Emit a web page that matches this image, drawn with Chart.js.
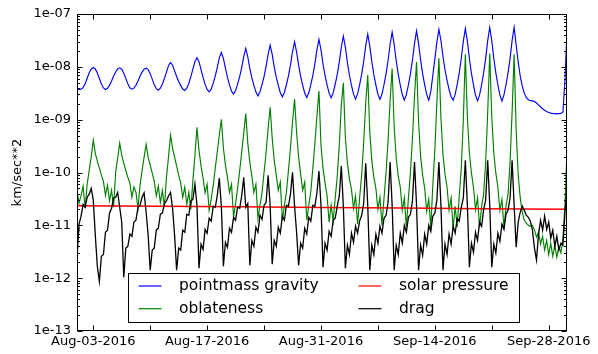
<!DOCTYPE html>
<html>
<head>
<meta charset="utf-8">
<title>Perturbing accelerations</title>
<script src="https://cdn.jsdelivr.net/npm/chart.js@4.4.0/dist/chart.umd.min.js"></script>
<style>
  html, body { margin: 0; padding: 0; background: #fff; }
</style>
</head>
<body>
<canvas id="accelChart" width="598" height="354"></canvas>
<script>
// samples every 6 h starting Aug-01-2016 00:00 (day 0)
const stepDays = 0.25;

// km/sec**2
const pointmassGravity = [
  3.85e-9, 3.75e-9, 3.78e-9, 4.04e-9, 4.78e-9, 6.06e-9, 7.7e-9, 9.13e-9, 9.74e-9, 9.13e-9,
  7.67e-9, 6.03e-9, 4.74e-9, 3.98e-9, 3.73e-9, 3.91e-9, 4.46e-9, 5.38e-9, 6.64e-9, 8.0e-9,
  9.13e-9, 9.57e-9, 9.01e-9, 7.6e-9, 6.0e-9, 4.76e-9, 4.02e-9, 3.78e-9, 3.95e-9, 4.48e-9,
  5.41e-9, 6.61e-9, 7.94e-9, 9.01e-9, 9.45e-9, 8.85e-9, 7.43e-9, 5.85e-9, 4.6e-9, 3.86e-9,
  3.62e-9, 3.93e-9, 4.72e-9, 6.0e-9, 7.94e-9, 1.05e-8, 1.21e-8, 1.07e-8, 8.4e-9, 6.58e-9,
  5.29e-9, 4.41e-9, 3.8e-9, 3.57e-9, 3.95e-9, 4.89e-9, 6.52e-9, 9.05e-9, 1.26e-8, 1.49e-8,
  1.25e-8, 8.85e-9, 6.3e-9, 4.66e-9, 3.73e-9, 3.36e-9, 3.78e-9, 4.91e-9, 6.67e-9, 9.74e-9,
  1.48e-8, 1.87e-8, 1.45e-8, 9.41e-9, 6.3e-9, 4.54e-9, 3.45e-9, 3.04e-9, 3.57e-9, 4.7e-9,
  6.5e-9, 9.66e-9, 1.56e-8, 2.23e-8, 1.54e-8, 9.37e-9, 6.19e-9, 4.44e-9, 3.33e-9, 2.82e-9,
  3.38e-9, 4.6e-9, 6.55e-9, 1.02e-8, 1.73e-8, 2.58e-8, 1.72e-8, 1.0e-8, 6.36e-9, 4.44e-9,
  3.23e-9, 2.7e-9, 3.27e-9, 4.58e-9, 6.72e-9, 1.09e-8, 1.93e-8, 2.98e-8, 1.92e-8, 1.08e-8,
  6.61e-9, 4.48e-9, 3.19e-9, 2.63e-9, 3.22e-9, 4.6e-9, 6.87e-9, 1.14e-8, 2.1e-8, 3.3e-8,
  2.09e-8, 1.13e-8, 6.81e-9, 4.52e-9, 3.18e-9, 2.59e-9, 3.21e-9, 4.68e-9, 7.18e-9, 1.23e-8,
  2.35e-8, 3.81e-8, 2.33e-8, 1.2e-8, 6.93e-9, 4.48e-9, 3.04e-9, 2.45e-9, 3.07e-9, 4.56e-9,
  7.18e-9, 1.27e-8, 2.5e-8, 4.16e-8, 2.49e-8, 1.26e-8, 7.12e-9, 4.52e-9, 3.03e-9, 2.41e-9,
  3.06e-9, 4.6e-9, 7.37e-9, 1.32e-8, 2.68e-8, 4.54e-8, 2.67e-8, 1.3e-8, 7.21e-9, 4.5e-9,
  2.96e-9, 2.34e-9, 2.98e-9, 4.54e-9, 7.37e-9, 1.35e-8, 2.78e-8, 4.81e-8, 2.78e-8, 1.35e-8,
  7.37e-9, 4.54e-9, 2.98e-9, 2.34e-9, 3.39e-9, 6.87e-9, 1.4e-8, 2.94e-8, 5.11e-8, 3.12e-8,
  1.58e-8, 8.81e-9, 5.55e-9, 3.72e-9, 2.72e-9, 2.34e-9, 3.0e-9, 4.66e-9, 7.67e-9, 1.44e-8,
  3.04e-8, 5.34e-8, 3.03e-8, 1.42e-8, 7.53e-9, 4.54e-9, 2.92e-9, 2.27e-9, 2.94e-9, 4.58e-9,
  7.67e-9, 1.45e-8, 3.14e-8, 5.57e-8, 3.14e-8, 1.45e-8, 7.67e-9, 4.58e-9, 2.94e-9, 2.27e-9,
  2.94e-9, 4.58e-9, 7.67e-9, 1.45e-8, 3.14e-8, 5.57e-8, 2.58e-8, 1.23e-8, 6.67e-9, 4.31e-9,
  3.18e-9, 2.61e-9, 2.39e-9, 2.29e-9, 2.27e-9, 2.21e-9, 2.07e-9, 1.9e-9, 1.74e-9, 1.61e-9,
  1.51e-9, 1.43e-9, 1.37e-9, 1.33e-9, 1.31e-9, 1.3e-9, 1.29e-9, 1.3e-9, 1.31e-9, 1.4e-9,
  5.6e-9, 4.96e-8
];

const oblateness = [
  4.6e-11, 2.6e-11, 3.7e-11, 5.5e-11, 2.1e-11, 6.0e-11, 1.1e-10, 2.0e-10, 4.1e-10, 2.3e-10,
  1.64e-10, 1.21e-10, 8.9e-11, 6.8e-11, 3.7e-11, 5.75e-11, 2.9e-11, 4.6e-11, 2.2e-11, 1.01e-10,
  1.87e-10, 3.6e-10, 2.1e-10, 1.5e-10, 1.1e-10, 8.1e-11, 6.3e-11, 3.4e-11, 5.3e-11, 4.2e-11,
  2.1e-11, 5.75e-11, 1.1e-10, 1.95e-10, 3.4e-10, 1.95e-10, 1.38e-10, 9.7e-11, 6.8e-11, 3.6e-11,
  5.5e-11, 2.7e-11, 4.6e-11, 2.2e-11, 8.1e-11, 1.95e-10, 5.1e-10, 2.9e-10, 1.95e-10, 1.32e-10,
  8.9e-11, 6.3e-11, 3.4e-11, 5.3e-11, 2.5e-11, 4.2e-11, 2.0e-11, 7.1e-11, 2.1e-10, 7.2e-10,
  2.65e-10, 1.32e-10, 7.8e-11, 4.1e-11, 6.0e-11, 1.93e-11, 3.1e-11, 5.75e-11, 1.21e-10, 2.5e-10,
  5.1e-10, 1.02e-9, 2.9e-10, 1.38e-10, 8.1e-11, 4.2e-11, 6.0e-11, 1.42e-11, 2.6e-11, 5.0e-11,
  1.06e-10, 2.4e-10, 5.5e-10, 1.3e-9, 3.6e-10, 1.57e-10, 8.5e-11, 4.2e-11, 6.0e-11, 1.36e-11,
  2.4e-11, 4.1e-11, 1.01e-10, 2.4e-10, 6.9e-10, 1.72e-9, 4.5e-10, 1.7e-10, 8.9e-11, 4.6e-11,
  6.6e-11, 1.25e-11, 2.4e-11, 4.2e-11, 1.1e-10, 2.9e-10, 9.0e-10, 2.45e-9, 5.8e-10, 1.95e-10,
  9.2e-11, 4.6e-11, 6.6e-11, 1.25e-11, 2.4e-11, 4.4e-11, 1.21e-10, 3.6e-10, 1.16e-9, 3.5e-9,
  3.3e-10, 1.21e-10, 6.3e-11, 3.6e-11, 1.15e-11, 2.4e-11, 1.2e-11, 3.3e-11, 8.5e-11, 3.3e-10,
  1.88e-9, 5.0e-9, 4.5e-10, 1.5e-10, 7.5e-11, 4.8e-11, 2.1e-11, 3.6e-11, 1.05e-11, 3.3e-11,
  8.9e-11, 3.75e-10, 2.05e-9, 7.0e-9, 5.8e-10, 1.7e-10, 8.1e-11, 5.0e-11, 2.0e-11, 3.4e-11,
  1.0e-11, 3.3e-11, 9.7e-11, 4.1e-10, 2.3e-9, 9.3e-9, 7.2e-10, 1.87e-10, 8.5e-11, 5.3e-11,
  1.93e-11, 3.3e-11, 9.2e-12, 3.3e-11, 1.01e-10, 4.5e-10, 2.8e-9, 1.23e-8, 9.0e-10, 2.0e-10,
  8.9e-11, 5.0e-11, 1.85e-11, 3.1e-11, 8.8e-12, 5.75e-11, 2.65e-10, 2.15e-9, 1.46e-8, 1.07e-9,
  2.2e-10, 9.2e-11, 5.3e-11, 1.93e-11, 3.3e-11, 8.8e-12, 2.3e-11, 9.2e-12, 3.6e-11, 1.21e-10,
  9.8e-10, 1.72e-8, 1.11e-9, 2.3e-10, 9.7e-11, 5.3e-11, 2.0e-11, 3.3e-11, 9.2e-12, 2.3e-11,
  3.9e-11, 1.57e-10, 1.39e-9, 1.79e-8, 1.11e-9, 2.3e-10, 9.7e-11, 5.3e-11, 1.93e-11, 3.1e-11,
  8.8e-12, 2.3e-11, 3.9e-11, 1.57e-10, 1.39e-9, 1.72e-8, 6.3e-10, 8.9e-11, 3.3e-11, 1.77e-11,
  1.25e-11, 1.1e-11, 1.0e-11, 9.6e-12, 1.0e-11, 8.1e-12, 6.0e-12, 7.4e-12, 4.4e-12, 6.2e-12,
  3.4e-12, 5.2e-12, 2.8e-12, 4.6e-12, 2.6e-12, 4.2e-12, 2.5e-12, 4.0e-12, 3.0e-12, 5.7e-12,
  2.4e-11, 2.65e-10
];

const drag = [
  2.4e-12, 1.05e-11, 1.49e-11, 2.5e-11, 2.2e-11, 3.4e-11, 3.9e-11, 5.0e-11, 3.0e-11, 6.5e-12,
  1.68e-12, 8.7e-13, 2.6e-12, 2.8e-12, 7.4e-12, 8.1e-12, 1.7e-11, 2.1e-11, 3.3e-11, 3.4e-11,
  4.2e-11, 2.2e-11, 1.15e-11, 1.04e-12, 3.7e-12, 4.0e-12, 6.8e-12, 6.2e-12, 1.15e-11, 1.25e-11,
  2.2e-11, 2.4e-11, 3.4e-11, 4.1e-11, 1.77e-11, 6.5e-12, 1.41e-12, 3.4e-12, 3.7e-12, 8.1e-12,
  8.8e-12, 1.62e-11, 1.7e-11, 2.6e-11, 2.9e-11, 3.6e-11, 4.2e-11, 2.1e-11, 6.5e-12, 1.41e-12,
  3.7e-12, 3.4e-12, 8.1e-12, 7.4e-12, 1.62e-11, 1.55e-11, 2.9e-11, 3.1e-11, 6.0e-11, 2.4e-11,
  1.54e-12, 4.4e-12, 3.5e-12, 8.4e-12, 7.1e-12, 1.36e-11, 1.2e-11, 2.3e-11, 2.2e-11, 3.7e-11,
  7.8e-11, 2.3e-11, 1.68e-12, 4.8e-12, 3.85e-12, 8.8e-12, 7.4e-12, 1.42e-11, 1.25e-11, 2.2e-11,
  2.1e-11, 3.6e-11, 8.1e-11, 2.2e-11, 2.6e-11, 1.75e-12, 5.2e-12, 4.0e-12, 9.2e-12, 7.4e-12,
  1.55e-11, 1.3e-11, 2.4e-11, 2.7e-11, 8.9e-11, 2.4e-11, 1.83e-12, 5.2e-12, 4.0e-12, 9.2e-12,
  7.1e-12, 1.49e-11, 1.25e-11, 2.4e-11, 2.3e-11, 3.9e-11, 1.01e-10, 2.3e-11, 7.4e-12, 1.75e-12,
  4.6e-12, 3.7e-12, 8.8e-12, 6.8e-12, 1.42e-11, 1.2e-11, 2.4e-11, 2.3e-11, 4.1e-11, 1.06e-10,
  2.4e-11, 1.61e-12, 4.6e-12, 3.4e-12, 7.7e-12, 6.2e-12, 1.25e-11, 1.36e-11, 2.3e-11, 3.6e-11,
  1.32e-10, 2.3e-11, 1.54e-12, 4.2e-12, 2.8e-12, 7.1e-12, 4.8e-12, 9.6e-12, 7.1e-12, 1.2e-11,
  1.55e-11, 2.6e-11, 1.5e-10, 2.4e-11, 1.41e-12, 4.2e-12, 2.8e-12, 6.8e-12, 4.6e-12, 9.6e-12,
  7.1e-12, 1.36e-11, 1.55e-11, 2.7e-11, 1.57e-10, 2.4e-11, 1.41e-12, 4.2e-12, 2.8e-12, 7.1e-12,
  4.6e-12, 1.0e-11, 7.4e-12, 1.42e-11, 1.62e-11, 2.9e-11, 1.57e-10, 2.4e-11, 1.41e-12, 4.2e-12,
  2.7e-12, 6.8e-12, 4.4e-12, 1.0e-11, 7.7e-12, 1.49e-11, 1.7e-11, 3.0e-11, 1.57e-10, 2.4e-11,
  1.41e-12, 4.4e-12, 2.8e-12, 6.8e-12, 4.4e-12, 9.6e-12, 7.1e-12, 1.36e-11, 1.2e-11, 2.2e-11,
  3.3e-11, 1.7e-10, 2.4e-11, 1.61e-12, 4.6e-12, 3.1e-12, 7.4e-12, 5.2e-12, 1.15e-11, 9.6e-12,
  2.0e-11, 3.0e-11, 1.7e-10, 2.4e-11, 1.61e-12, 4.4e-12, 3.0e-12, 7.1e-12, 5.0e-12, 1.05e-11,
  8.4e-12, 1.62e-11, 1.93e-11, 3.3e-11, 1.7e-10, 2.4e-11, 3.85e-12, 1.15e-11, 1.77e-11, 2.3e-11,
  1.93e-11, 1.55e-11, 1.42e-11, 1.2e-11, 8.1e-12, 3.7e-12, 2.2e-12, 6.8e-12, 1.25e-11, 8.1e-12,
  1.49e-11, 8.4e-12, 1.15e-11, 5.7e-12, 8.1e-12, 4.0e-12, 6.2e-12, 3.4e-12, 4.6e-12, 4.2e-12,
  1.77e-11, 5.75e-11
];

// solar pressure is almost flat, a few readings are enough
const solarDays = [0, 10, 20, 30, 40, 50, 60.25];
const solarPressure = [2.35e-11, 2.29e-11, 2.24e-11, 2.18e-11, 2.13e-11, 2.07e-11, 2.02e-11];

// axis ticks
const tickDays = [2, 9, 16, 23, 30, 37, 44, 51, 58];
const xTickLabels = ["Aug-03-2016", "", "Aug-17-2016", "", "Aug-31-2016", "", "Sep-14-2016", "", "Sep-28-2016"];
const yTickValues = [1e-13, 1e-12, 1e-11, 1e-10, 1e-9, 1e-8, 1e-7];
const yTickLabels = ["1e-13", "1e-12", "1e-11", "1e-10", "1e-09", "1e-08", "1e-07"];

function toPoints(values) {
  return values.map((v, i) => ({ x: i * stepDays, y: v }));
}

// matplotlib-like frame with inward ticks on all four sides
const axesFrame = {
  id: "axesFrame",
  afterDatasetsDraw(chart) {
    const { ctx, chartArea: a, scales: { x, y } } = chart;
    const L = a.left + 0.5, R = a.right - 0.5, T = a.top + 0.5, B = a.bottom - 0.5;
    ctx.save();
    ctx.strokeStyle = "#000";
    ctx.lineWidth = 1;
    ctx.beginPath();
    tickDays.forEach(d => {
      const px = Math.round(x.getPixelForValue(d)) + 0.5;
      ctx.moveTo(px, B); ctx.lineTo(px, B - 5);
      ctx.moveTo(px, T); ctx.lineTo(px, T + 5);
    });
    yTickValues.forEach((dec, k) => {
      for (let m = 1; m <= 9; m++) {
        if (k === yTickValues.length - 1 && m > 1) break;
        const py = Math.round(y.getPixelForValue(dec * m)) + 0.5;
        const len = m === 1 ? 5 : 2.5;
        ctx.moveTo(L, py); ctx.lineTo(L + len, py);
        ctx.moveTo(R, py); ctx.lineTo(R - len, py);
      }
    });
    ctx.stroke();
    ctx.strokeRect(L, T, R - L, B - T);
    ctx.restore();
  }
};

// boxed two-column legend sitting inside the plot, like the original
const legendBox = {
  id: "legendBox",
  afterDraw(chart) {
    const { ctx, chartArea: a } = chart;
    const left = Math.round(a.left + 51) + 0.5;
    const top = Math.round(a.top + 259) + 0.5;
    const w = 391, h = 49;
    ctx.save();
    ctx.fillStyle = "#fff";
    ctx.fillRect(left, top, w, h);
    ctx.strokeStyle = "#000";
    ctx.lineWidth = 1;
    ctx.strokeRect(left, top, w, h);
    ctx.font = '15.5px "DejaVu Sans"';
    ctx.textBaseline = "middle";
    ctx.textAlign = "left";
    chart.data.datasets.forEach((ds, i) => {
      const col = Math.floor(i / 2), row = i % 2;
      const lx = left + 10 + col * 220;
      const ly = top + 12.5 + row * 22.7;
      ctx.strokeStyle = ds.borderColor;
      ctx.lineWidth = 1.2;
      ctx.beginPath();
      ctx.moveTo(lx, ly); ctx.lineTo(lx + 23, ly);
      ctx.stroke();
      ctx.fillStyle = "#000";
      ctx.fillText(ds.label, lx + 40.5, ly);
    });
    ctx.restore();
  }
};

Chart.defaults.font.family = '"DejaVu Sans", sans-serif';
Chart.defaults.color = "#000";

const ctx = document.getElementById("accelChart").getContext("2d");
new Chart(ctx, {
  type: "line",
  data: {
    datasets: [
      { label: "pointmass gravity", data: toPoints(pointmassGravity), borderColor: "#0000ff", order: 4 },
      { label: "oblateness", data: toPoints(oblateness), borderColor: "#008000", order: 3 },
      {
        label: "solar pressure",
        data: solarDays.map((d, i) => ({ x: d, y: solarPressure[i] })),
        borderColor: "#ff0000",
        borderWidth: 1.5,
        order: 2,
      },
      { label: "drag", data: toPoints(drag), borderColor: "#000000", borderWidth: 1.3, order: 1 },
    ],
  },
  options: {
    responsive: false,
    animation: false,
    layout: { padding: { top: 14, right: 31, left: 0, bottom: 0 } },
    elements: {
      point: { radius: 0 },
      line: { borderWidth: 1.15, tension: 0, fill: false },
    },
    plugins: {
      legend: { display: false },
      tooltip: { enabled: false },
    },
    scales: {
      x: {
        type: "linear",
        min: 0,
        max: 60.25,
        grid: { display: false, drawTicks: false },
        border: { display: false },
        afterBuildTicks: scale => {
          scale.ticks = tickDays.map(v => ({ value: v }));
        },
        afterFit: scale => {
          scale.height = 23;
        },
        ticks: {
          autoSkip: false,
          maxRotation: 0,
          padding: 3,
          font: { size: 13 },
          callback: (v, i) => xTickLabels[i],
        },
      },
      y: {
        type: "logarithmic",
        min: 1e-13,
        max: 1e-7,
        grid: { display: false, drawTicks: false },
        border: { display: false },
        afterBuildTicks: scale => {
          scale.ticks = yTickValues.map(v => ({ value: v }));
        },
        afterFit: scale => {
          scale.width = 77;
        },
        ticks: {
          autoSkip: false,
          padding: 6,
          font: { size: 13 },
          callback: (v, i) => yTickLabels[i],
        },
        title: {
          display: true,
          text: "km/sec**2",
          font: { size: 13 },
          padding: { top: 10, bottom: 0 },
        },
      },
    },
  },
  plugins: [axesFrame, legendBox],
});
</script>
</body>
</html>
